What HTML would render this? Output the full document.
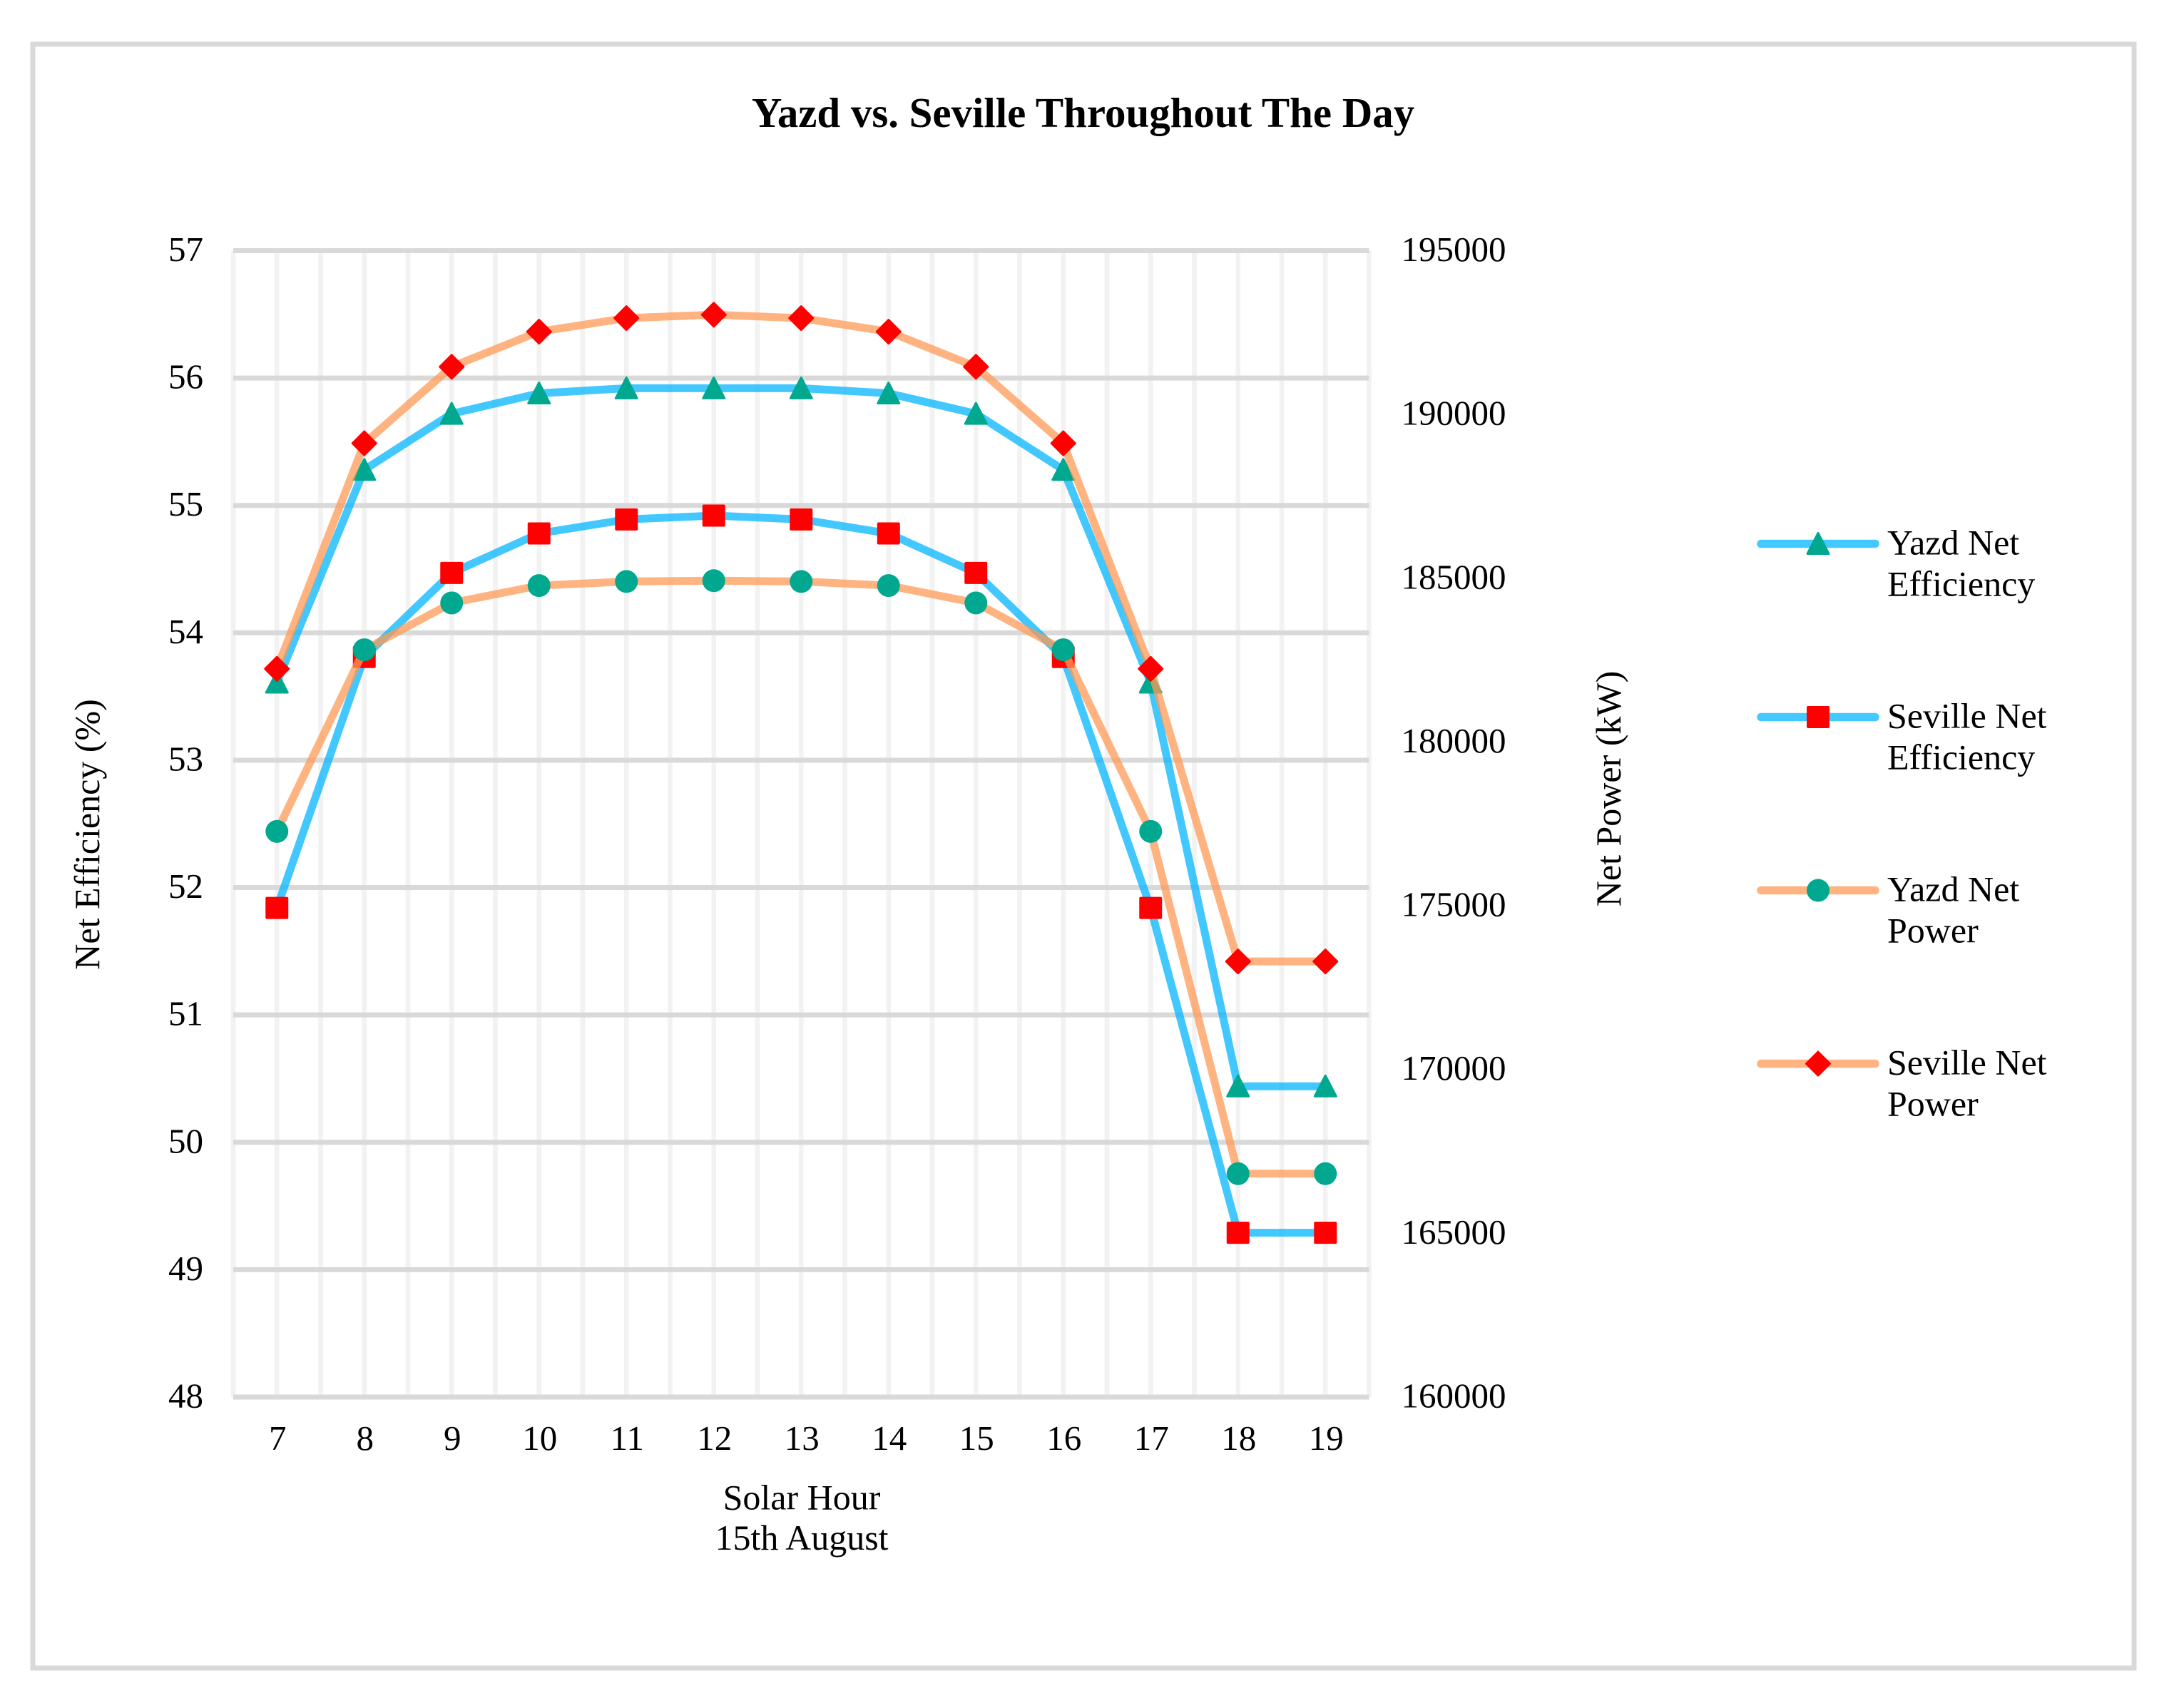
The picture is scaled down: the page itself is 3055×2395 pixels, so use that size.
<!DOCTYPE html>
<html lang="en">
<head>
<meta charset="utf-8">
<title>Yazd vs. Seville Throughout The Day</title>
<style>
  html, body { margin: 0; padding: 0; background: #fff; }
  svg { display: block; }
  text { font-family: "Liberation Serif", "Times New Roman", serif; fill: #000; }
</style>
</head>
<body>
<svg id="chart" xmlns="http://www.w3.org/2000/svg" width="3055" height="2395" viewBox="0 0 3055 2395">
  <rect x="0" y="0" width="3055" height="2395" fill="#ffffff"/>
  <rect x="46" y="62" width="2946" height="2277" fill="#ffffff" stroke="#d9d9d9" stroke-width="7"/>
  <text x="1518.5" y="178" font-size="58.9" font-weight="700" text-anchor="middle">Yazd vs. Seville Throughout The Day</text>
  <g id="grid"></g>
  <g id="ticks"></g>
  <g id="series"></g>
  <text x="1124" y="2116.5" font-size="50" text-anchor="middle">Solar Hour</text>
  <text x="1124" y="2173" font-size="50" text-anchor="middle">15th August</text>
  <text transform="translate(139 1170) rotate(-90)" font-size="50" text-anchor="middle">Net Efficiency (%)</text>
  <text transform="translate(2272 1106) rotate(-90)" font-size="50" text-anchor="middle">Net Power (kW)</text>
  <g id="legend"></g>
</svg>
<script>
const hours = [7, 8, 9, 10, 11, 12, 13, 14, 15, 16, 17, 18, 19];
const yazdEfficiency = [53.61, 55.28, 55.72, 55.88, 55.92, 55.92, 55.92, 55.88, 55.72, 55.28, 53.61, 50.44, 50.44];
const sevilleEfficiency = [51.84, 53.81, 54.47, 54.78, 54.89, 54.92, 54.89, 54.78, 54.47, 53.81, 51.84, 49.29, 49.29];
const yazdPower = [177270, 182816, 184245, 184775, 184900, 184925, 184900, 184775, 184245, 182816, 177270, 166820, 166820];
const sevillePower = [182234, 189120, 191455, 192528, 192940, 193045, 192940, 192528, 191455, 189120, 182234, 173300, 173300];
const efficiencyTicks = [57, 56, 55, 54, 53, 52, 51, 50, 49, 48];
const powerTicks = [195000, 190000, 185000, 180000, 175000, 170000, 165000, 160000];

const SVGNS = 'http://www.w3.org/2000/svg';
const plotLeft = 327, plotRight = 1919.5, plotTop = 351.5, plotBottom = 1959;
const BLUE = 'rgba(3,181,255,0.75)', ORANGE = 'rgba(255,154,86,0.75)', TEAL = '#00a88f', RED = '#ff0000';

const step = (plotRight - plotLeft) / hours.length;
function xCat(i) { return plotLeft + step * (i + 0.5); }
function yEff(v) { return plotTop + (57 - v) * (plotBottom - plotTop) / 9; }
function yPow(v) { return plotTop + (195000 - v) * (plotBottom - plotTop) / 35000; }

function make(tag, parent) {
  const el = document.createElementNS(SVGNS, tag);
  parent.appendChild(el);
  return el;
}
function setAll(el, attrs) {
  for (const k in attrs) el.setAttribute(k, attrs[k]);
}
function drawMarker(parent, shape, cx, cy) {
  let el;
  if (shape === 'triangle') {
    el = make('path', parent);
    setAll(el, { d: `M${cx} ${cy - 15}L${cx + 15} ${cy + 14}L${cx - 15} ${cy + 14}Z`, fill: TEAL, stroke: TEAL, 'stroke-width': 3, 'stroke-linejoin': 'round' });
  } else if (shape === 'square') {
    el = make('rect', parent);
    setAll(el, { x: cx - 16, y: cy - 15.5, width: 32, height: 31, rx: 2, fill: RED });
  } else if (shape === 'circle') {
    el = make('circle', parent);
    setAll(el, { cx: cx, cy: cy, r: 16, fill: TEAL });
  } else {
    el = make('path', parent);
    setAll(el, { d: `M${cx} ${cy - 16.5}L${cx + 16.5} ${cy}L${cx} ${cy + 16.5}L${cx - 16.5} ${cy}Z`, fill: RED, stroke: RED, 'stroke-width': 3, 'stroke-linejoin': 'round' });
  }
  return el;
}

const grid = document.getElementById('grid');
for (let i = 0; i <= hours.length * 1; i++) {
  const x0 = plotLeft + step * i;
  const major = make('line', grid);
  
  
  setAll(major, { x1: x0, x2: x0, y1: plotTop, y2: plotBottom, stroke: '#f2f2f2', 'stroke-width': 6.7 });
  if (i < hours.length) {
    const minor = make('line', grid);
    
    
    setAll(minor, { x1: xCat(i), x2: xCat(i), y1: plotTop, y2: plotBottom, stroke: '#f2f2f2', 'stroke-width': 6.7 });
  }
}
efficiencyTicks.forEach(function (t) {
  const y0 = yEff(t);
  const line = make('line', grid);
  
  
  setAll(line, { x1: plotLeft, x2: plotRight, y1: y0, y2: y0, stroke: '#d9d9d9', 'stroke-width': 7 });
});

const ticks = document.getElementById('ticks');
efficiencyTicks.forEach(function (t) {
  const el = make('text', ticks);
  
  
  setAll(el, { x: 285, y: yEff(t) + 14.5, 'font-size': 49, 'text-anchor': 'end' });
  el.textContent = t;
});
powerTicks.forEach(function (t) {
  const el = make('text', ticks);
  
  
  setAll(el, { x: 1964.5, y: yPow(t) + 14.5, 'font-size': 49 });
  el.textContent = t;
});
hours.forEach(function (h, i) {
  const el = make('text', ticks);
  
  
  setAll(el, { x: xCat(i) + 1, y: 2033, 'font-size': 49, 'text-anchor': 'middle' });
  el.textContent = h;
});

function drawSeries(values, yFn, color, shape, seriesName) {
  const g = make('g', document.getElementById('series'));
  
  
  const line = make('polyline', g);
  
  
  setAll(line, { points: values.map(function (v, i) { return xCat(i) + ',' + yFn(v); }).join(' '), fill: 'none', stroke: color, 'stroke-width': 11, 'stroke-linejoin': 'round', 'stroke-linecap': 'round' });
  values.forEach(function (v, i) {
    const m = drawMarker(g, shape, xCat(i), yFn(v));
    
    
  });
}
drawSeries(yazdEfficiency, yEff, BLUE, 'triangle', 'yazd-net-efficiency');
drawSeries(sevilleEfficiency, yEff, BLUE, 'square', 'seville-net-efficiency');
drawSeries(yazdPower, yPow, ORANGE, 'circle', 'yazd-net-power');
drawSeries(sevillePower, yPow, ORANGE, 'diamond', 'seville-net-power');

const legendLabels = [['Yazd Net', 'Efficiency'], ['Seville Net', 'Efficiency'], ['Yazd Net', 'Power'], ['Seville Net', 'Power']];
const legendShapes = ['triangle', 'square', 'circle', 'diamond'];
const legendColors = ['#42c9ff', '#42c9ff', '#ffb380', '#ffb380'];
const legend = document.getElementById('legend');
legendLabels.forEach(function (lab, i) {
  const cy = 762.5 + i * 243;
  const g = make('g', legend);
  
  
  const sw = make('line', g);
  
  
  setAll(sw, { x1: 2469, x2: 2629, y1: cy, y2: cy, stroke: legendColors[i], 'stroke-width': 11.5, 'stroke-linecap': 'round' });
  const mk = drawMarker(g, legendShapes[i], 2549, cy);
  
  
  lab.forEach(function (txt, j) {
    const t = make('text', g);
    
    
    setAll(t, { x: 2646, y: cy + 15 + j * 58, 'font-size': 50 });
    t.textContent = txt;
  });
});
</script>
</body>
</html>
